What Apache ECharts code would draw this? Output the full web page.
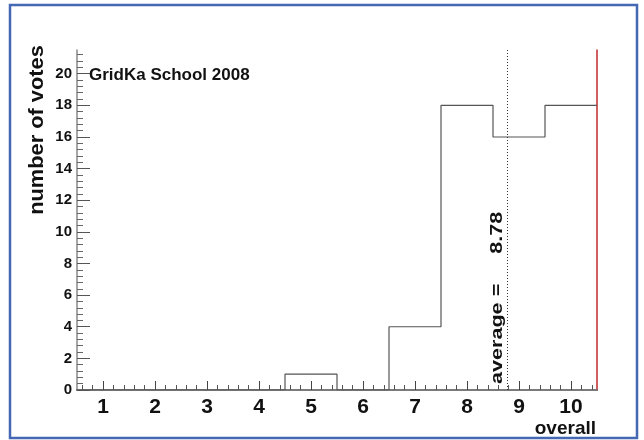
<!DOCTYPE html>
<html><head><meta charset="utf-8">
<script src="https://cdn.jsdelivr.net/npm/echarts@6/dist/echarts.min.js"></script>
<style>html,body{margin:0;padding:0;background:#fff}#c{width:644px;height:440px}</style>
</head><body><div id="c"></div>
<script>
const binCenters = [1,2,3,4,5,6,7,8,9,10];
const votes = [0,0,0,0,1,0,4,18,16,18];
const average = 8.78;
const xMajorTicks = [1,2,3,4,5,6,7,8,9,10];
const yMajorTicks = [0,2,4,6,8,10,12,14,16,18,20];
const xMin = 0.5, xMax = 10.5, yMin = 0, yMax = 21.5;

// histogram outline from bin edges
const stepData = binCenters.map((c,i)=>[c-0.5, votes[i]]);
stepData.push([binCenters[binCenters.length-1]+0.5, votes[votes.length-1]]);

const xMinor = [];
for (let v = xMin + 0.1; v < xMax; v += 0.2) { const r = Math.round(v*10)/10; if (Math.abs(r - Math.round(r)) > 1e-6) xMinor.push(r); }
const yMinor = [];
for (let v = 0.4; v < yMax; v += 0.4) { const r = Math.round(v*10)/10; if (Math.abs(r/2 - Math.round(r/2)) > 1e-6) yMinor.push(r); }

const F = 'Liberation Sans, Arial, sans-serif';
const chart = echarts.init(document.getElementById('c'), null, {renderer:'canvas'});
const baseGraphic = [
  {type:'rect',shape:{x:10,y:5,width:627,height:433},style:{fill:'none',stroke:'#4468b3',lineWidth:2.5},silent:true},
  {type:'text',x:89,y:75,style:{text:'GridKa School 2008',font:'bold 17px '+F,fill:'#111',textVerticalAlign:'middle'}},
  {type:'text',x:37,y:130,rotation:Math.PI/2,scaleX:1.09,style:{text:'number of votes',font:'bold 20px '+F,fill:'#111',textAlign:'center',textVerticalAlign:'middle'}},
  {type:'text',x:596,y:429,style:{text:'overall',font:'bold 19px '+F,fill:'#111',textAlign:'right',textVerticalAlign:'middle'}}
];
chart.setOption({
  animation:false,
  grid:{left:77,right:47,top:50,bottom:50,show:false},
  xAxis:[{
    type:'value',min:xMin,max:xMax,
    axisLine:{show:true,onZero:false,lineStyle:{color:'#222',width:1.5}},
    axisTick:{show:true,inside:true,length:9,customValues:xMajorTicks,lineStyle:{color:'#444'}},
    axisLabel:{customValues:xMajorTicks,fontFamily:F,fontWeight:'bold',fontSize:21,color:'#111',margin:7},
    splitLine:{show:false}
  },{
    type:'value',min:xMin,max:xMax,position:'bottom',
    axisLine:{show:false},
    axisTick:{show:true,inside:true,length:5,customValues:xMinor,lineStyle:{color:'#555'}},
    axisLabel:{show:false},splitLine:{show:false}
  },{
    type:'value',min:xMin,max:xMax,position:'top',
    axisLine:{show:true,lineStyle:{color:'#888',width:1.5}},
    axisTick:{show:false},axisLabel:{show:false},splitLine:{show:false}
  }],
  yAxis:[{
    type:'value',min:yMin,max:yMax,
    axisLine:{show:true,lineStyle:{color:'#888',width:1.5}},
    axisTick:{show:true,inside:true,length:13,customValues:yMajorTicks,lineStyle:{color:'#555'}},
    axisLabel:{customValues:yMajorTicks,fontFamily:F,fontWeight:'bold',fontSize:15,color:'#111',margin:5},
    splitLine:{show:false}
  },{
    type:'value',min:yMin,max:yMax,position:'left',
    axisLine:{show:false},
    axisTick:{show:true,inside:true,length:6,customValues:yMinor,lineStyle:{color:'#666'}},
    axisLabel:{show:false},splitLine:{show:false}
  },{
    type:'value',min:yMin,max:yMax,position:'right',
    axisLine:{show:true,lineStyle:{color:'#c0282d',width:1.5}},
    axisTick:{show:false},axisLabel:{show:false},splitLine:{show:false}
  }],
  series:[{
    type:'line',step:'end',data:stepData,symbol:'none',
    lineStyle:{color:'#555',width:1.2},
    markLine:{
      silent:true,symbol:'none',
      lineStyle:{color:'#333',type:[1,2],width:1},
      label:{show:false},
      data:[{xAxis:average}]
    }
  }],
  graphic:baseGraphic
});
// place the average annotation next to the average line, via the axis scale
const p = chart.convertToPixel({xAxisIndex:0,yAxisIndex:0},[average,0]);
chart.setOption({graphic:baseGraphic.concat([{
  type:'text',x:p[0]-10,y:p[1]-6,rotation:Math.PI/2,scaleX:1.27,
  style:{text:'average =     '+average.toFixed(2),font:'bold 17px '+F,fill:'#111',textAlign:'left',textVerticalAlign:'middle'}
}])});
</script></body></html>
